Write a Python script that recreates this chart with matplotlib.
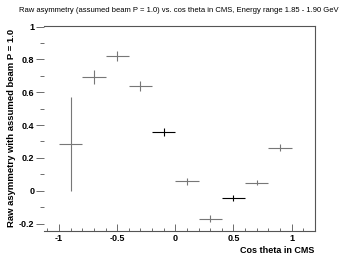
import matplotlib
matplotlib.use("Agg")
import matplotlib.pyplot as plt
from matplotlib.ticker import MultipleLocator, FuncFormatter

cos_theta = [-0.9, -0.7, -0.5, -0.3, -0.1, 0.1, 0.3, 0.5, 0.7, 0.9]
bin_halfwidth = [0.1] * 10
asym = [0.285, 0.693, 0.822, 0.64, 0.356, 0.058, -0.17, -0.044, 0.048, 0.262]
asym_err = [0.285, 0.04, 0.03, 0.03, 0.025, 0.02, 0.02, 0.02, 0.015, 0.02]
colors = ["#777777", "#777777", "#777777", "#777777", "#000000",
          "#777777", "#777777", "#000000", "#777777", "#777777"]

plt.rcParams['font.family'] = ['Liberation Sans', 'DejaVu Sans']

fig = plt.figure(figsize=(3.51, 2.56), dpi=100)
ax = fig.add_axes([0.125, 0.0977, 0.772, 0.8005])

for x, xe, y, ye, c in zip(cos_theta, bin_halfwidth, asym, asym_err, colors):
    ax.errorbar([x], [y], xerr=[xe], yerr=[ye], fmt='none', ecolor=c,
                elinewidth=0.8, capsize=0)

ax.set_xlim(-1.13, 1.2)
ax.set_ylim(-0.245, 1.003)

ax.spines['left'].set_visible(False)
for s in ['top', 'right', 'bottom']:
    ax.spines[s].set_color('#555555')
    ax.spines[s].set_linewidth(0.8)

ax.xaxis.set_major_locator(MultipleLocator(0.5))
ax.xaxis.set_minor_locator(MultipleLocator(0.1))
ax.yaxis.set_major_locator(MultipleLocator(0.2))
ax.yaxis.set_minor_locator(MultipleLocator(0.1))
ax.tick_params(axis='x', which='major', direction='in', length=5, width=0.6,
               color='#555555', labelsize=6.5, pad=2)
ax.tick_params(axis='x', which='minor', direction='in', length=2.5, width=0.6,
               color='#555555')
ax.tick_params(axis='y', which='major', direction='out', length=6, width=0.6,
               color='#555555', labelsize=6.5, pad=1)
ax.tick_params(axis='y', which='minor', direction='out', length=3, width=0.6,
               color='#555555')

def fmt(v, pos):
    return f"{v:g}"
ax.xaxis.set_major_formatter(FuncFormatter(fmt))
ax.yaxis.set_major_formatter(FuncFormatter(fmt))
for lab in ax.get_xticklabels() + ax.get_yticklabels():
    lab.set_fontweight('bold')

fig.text(0.51, 0.96, "Raw asymmetry (assumed beam P = 1.0) vs. cos theta in CMS, Energy range 1.85 - 1.90 GeV",
         ha='center', va='center', fontsize=5.5)
fig.text(0.897, 0.022, "Cos theta in CMS", ha='right', va='center',
         fontsize=6.5, fontweight='bold')
fig.text(0.032, 0.5, "Raw asymmetry with assumed beam P = 1.0", ha='center', va='center',
         rotation=90, fontsize=6.8, fontweight='bold')

fig.savefig("out.png", dpi=100)
